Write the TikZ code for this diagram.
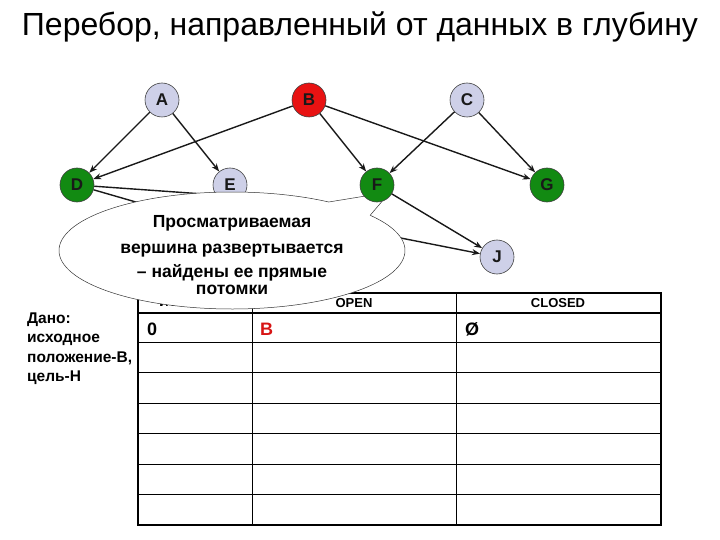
\documentclass[tikz,border=0pt]{standalone}
\usepackage{fontspec}
\setmainfont{Liberation Sans}
\usetikzlibrary{arrows.meta,calc}
\definecolor{lav}{RGB}{206,208,232}
\definecolor{nodered}{RGB}{232,18,18}
\definecolor{nodegreen}{RGB}{18,138,18}
\definecolor{cellred}{RGB}{215,20,20}
\tikzset{
  vert/.style={circle, draw=black!75, line width=0.6pt, minimum size=34pt, inner sep=0pt,
    font=\bfseries\fontsize{17}{17}\selectfont, text=black!90},
  link/.style={draw=black!90, line width=1.4pt, -{Stealth[length=8pt,width=6pt]}},
  plainlink/.style={draw=black!90, line width=1.4pt},
  callout/.style={draw=black!80, line width=0.5pt, fill=white},
  thick line/.style={line width=2pt},
  thin line/.style={line width=1pt},
  hdr/.style={font=\bfseries\fontsize{13}{13}\selectfont, anchor=base},
  cell/.style={font=\bfseries\fontsize{18}{18}\selectfont, anchor=base west, inner sep=0pt},
  given/.style={font=\bfseries\fontsize{15.5}{15.5}\selectfont, anchor=base west, inner sep=0pt},
  ctxt/.style={font=\bfseries\fontsize{17.5}{17.5}\selectfont, anchor=base, inner sep=0pt},
}
\begin{document}
\begin{tikzpicture}[x=1pt,y=-1pt]
\useasboundingbox (0,0) rectangle (720,540);
% title
\node[font=\fontsize{32}{36}\selectfont, anchor=base, inner sep=0pt] (title) at (360,36) {Перебор, направленный от данных в глубину};

% table
\draw[thin line] (138,342) -- (661,342);
\draw[thin line] (138,372) -- (661,372);
\draw[thin line] (138,403) -- (661,403);
\draw[thin line] (138,433) -- (661,433);
\draw[thin line] (138,464) -- (661,464);
\draw[thin line] (138,494) -- (661,494);
\draw[thin line] (252,293) -- (252,525);
\draw[thin line] (456,293) -- (456,525);
\draw[thick line] (138,313) -- (661,313);
\draw[thick line] (138,293) rectangle (661,525);
\node[hdr] (hiter) at (195,306) {ИТЕРАЦИЯ};
\node[hdr] (hopen) at (354,307) {OPEN};
\node[hdr] (hclosed) at (558,307) {CLOSED};
\node[cell] (c0) at (147,335) {0};
\node[cell, text=cellred] (cB) at (260,335) {B};
\node[cell] (cO) at (465,335) {Ø};

% given
\node[given] (g1) at (27,323) {Дано:};
\node[given] (g2) at (27,342.5) {исходное};
\node[given] (g3) at (27,362) {положение-B,};
\node[given] (g4) at (27,381.5) {цель-H};

% graph nodes
\node[vert, fill=lav] (A) at (162,100) {A};
\node[vert, fill=nodered] (B) at (309,100) {B};
\node[vert, fill=lav] (C) at (467,100) {C};
\node[vert, fill=nodegreen] (D) at (77,185) {D};
\node[vert, fill=lav] (E) at (230,185) {E};
\node[vert, fill=nodegreen] (G) at (547,185) {G};
\node[vert, fill=lav] (J) at (497,257) {J};

\coordinate (h1) at (260,198);
\coordinate (h2) at (160,209);
\coordinate (h3) at (350,228);

\draw[link] (A) -- (D);
\draw[link] (A) -- (E);
\draw[link] (B) -- (D);
\draw[link] (B) -- (G);
\draw[link] (C) -- (G);
\draw[plainlink] (D) -- (h1);
\draw[plainlink] (D) -- (h2);
\draw[link] (h3) -- (J);

% callout
\coordinate (cc) at (232,250.5);
\coordinate (tip) at (390,192);
\draw[callout] ($(cc)+(-37:173 and 58.5)$) arc[start angle=-37, end angle=304, x radius=173, y radius=58.5] -- (tip) -- cycle;
\node[ctxt] (l1) at (232,228) {Просматриваемая};
\node[ctxt] (l2) at (232,253) {вершина развертывается};
\node[ctxt] (l3) at (232,277) {– найдены ее прямые};
\node[ctxt] (l4) at (232,294) {потомки};

% F on top of callout tail
\node[vert, fill=nodegreen] (F) at (377,185) {F};
\draw[link] (B) -- (F);
\draw[link] (C) -- (F);
\draw[link] (F) -- (J);
\end{tikzpicture}
\end{document}
